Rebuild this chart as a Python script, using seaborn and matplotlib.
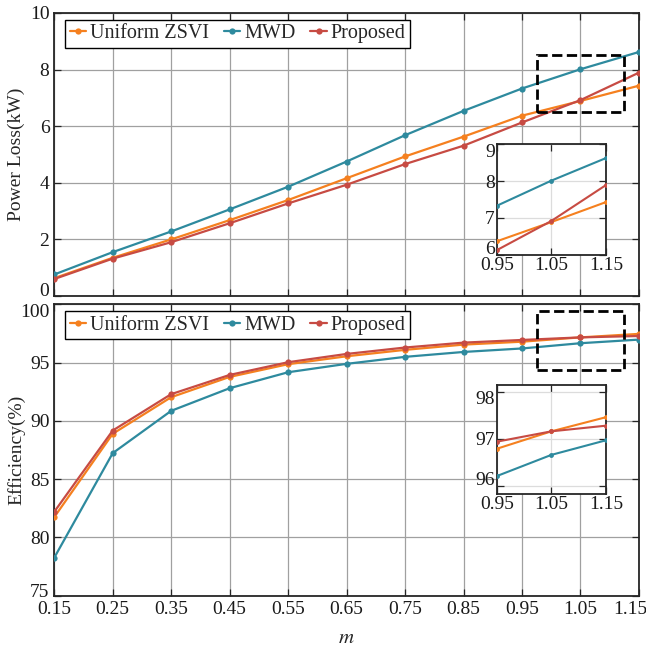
import pandas as pd
import matplotlib
matplotlib.use("Agg")
import matplotlib.pyplot as plt
from matplotlib.patches import Rectangle
from matplotlib.transforms import ScaledTranslation
import seaborn as sns

m = [0.15, 0.25, 0.35, 0.45, 0.55, 0.65, 0.75, 0.85, 0.95, 1.05, 1.15]
methods = ["Uniform ZSVI", "MWD", "Proposed"]

loss_uniform = [0.63, 1.35, 2.00, 2.68, 3.39, 4.16, 4.93, 5.63, 6.37, 6.89, 7.43]
loss_mwd = [0.76, 1.55, 2.28, 3.06, 3.86, 4.75, 5.68, 6.54, 7.33, 8.01, 8.62]
loss_proposed = [0.60, 1.32, 1.90, 2.57, 3.27, 3.93, 4.66, 5.31, 6.13, 6.92, 7.89]

eff_uniform = [81.74, 88.89, 92.03, 93.77, 94.86, 95.54, 96.09, 96.54, 96.79, 97.16, 97.46]
eff_mwd = [78.26, 87.23, 90.86, 92.80, 94.17, 94.89, 95.49, 95.91, 96.21, 96.66, 96.97]
eff_proposed = [82.20, 89.17, 92.29, 93.94, 95.03, 95.74, 96.29, 96.71, 96.94, 97.16, 97.28]

colors = ["#F5801F", "#2E8A9E", "#C74B43"]

sns.set_style("ticks")
plt.rcParams["font.family"] = ["Liberation Serif", "DejaVu Serif"]
plt.rcParams["mathtext.fontset"] = "stix"


def long_df(u, w, p):
    rows = []
    for name, vals in zip(methods, [u, w, p]):
        for x, y in zip(m, vals):
            rows.append({"m": x, "val": y, "method": name})
    return pd.DataFrame(rows)


loss_df = long_df(loss_uniform, loss_mwd, loss_proposed)
eff_df = long_df(eff_uniform, eff_mwd, eff_proposed)

fig = plt.figure(figsize=(6.46, 6.47), dpi=100)
ax1 = fig.add_axes([0.084, 0.5425, 0.905, 0.4375])
ax2 = fig.add_axes([0.084, 0.0793, 0.905, 0.4504])


def draw(ax, df, lw=1.6, ms=4.5):
    sns.lineplot(data=df, x="m", y="val", hue="method", hue_order=methods,
                 palette=colors, marker="o", markersize=ms, markeredgewidth=0,
                 linewidth=lw, legend=False, ax=ax, zorder=3)


def style(ax, fs=14, grid_color="#a0a0a0", pad=3.5):
    ax.grid(True, color=grid_color, linewidth=0.9)
    ax.set_axisbelow(True)
    for s in ax.spines.values():
        s.set_color("#262626")
        s.set_linewidth(1.3)
        s.set_visible(True)
    ax.tick_params(direction="in", top=True, right=True, labelsize=fs, pad=pad,
                   length=5, width=0.9, colors="#262626", labelcolor="#1a1a1a")
    ax.set_xlabel("")
    ax.set_ylabel("")


for ax, df in [(ax1, loss_df), (ax2, eff_df)]:
    draw(ax, df)
    ax.set_xlim(0.15, 1.15)
    ax.set_xticks(m)
    style(ax)

ax1.set_ylim(0, 10)
ax1.set_yticks([0, 2, 4, 6, 8, 10])
ax1.set_xticklabels([])
ax1.set_ylabel("Power Loss(kW)", fontsize=14)
ax1.yaxis.set_label_coords(-0.05, 0.5)

ax2.set_ylim(75, 100)
ax2.set_yticks([75, 80, 85, 90, 95, 100])
ax2.set_xticklabels([f"{v:.2f}" for v in m])
ax2.set_ylabel("Efficiency(%)", fontsize=14)
ax2.yaxis.set_label_coords(-0.05, 0.5)
ax2.set_xlabel("$m$", fontsize=15, labelpad=8)

for ax in (ax1, ax2):
    leg = ax.legend(ax.lines[:3], methods, ncol=3, loc="upper left",
                    bbox_to_anchor=(0.012, 0.99), fontsize=14.5, frameon=True,
                    fancybox=False, edgecolor="black", framealpha=1,
                    handlelength=0.8, handletextpad=0.2, columnspacing=0.75,
                    borderpad=0.22, borderaxespad=0.2)
    leg.get_frame().set_linewidth(1.0)

ax1.add_patch(Rectangle((0.975, 6.5), 0.15, 2.0, fill=False, edgecolor="black",
                        linestyle="--", linewidth=2, zorder=5))
ax2.add_patch(Rectangle((0.975, 94.4), 0.15, 5.0, fill=False, edgecolor="black",
                        linestyle="--", linewidth=2, zorder=5))

# insets
in1 = fig.add_axes([0.769, 0.6059, 0.169, 0.1715])
in2 = fig.add_axes([0.769, 0.2365, 0.169, 0.1689])
for ax, df in [(in1, loss_df), (in2, eff_df)]:
    draw(ax, df, lw=1.5, ms=3.5)
    ax.set_xlim(0.95, 1.15)
    ax.set_xticks([0.95, 1.05, 1.15])
    ax.set_xticklabels(["0.95", "1.05", "1.15"])
    style(ax, fs=14, grid_color="#dcdcdc", pad=1.5)

in1.set_ylim(6, 9)
in1.set_yticks([6, 7, 8, 9])
in2.set_ylim(95.83, 98.15)
in2.set_yticks([96, 97, 98])

fig.canvas.draw()


def nudge(label, dx, dy):
    label.set_transform(label.get_transform()
                        + ScaledTranslation(dx / 100, dy / 100, fig.dpi_scale_trans))


# pull the end labels inside the axes, like the original
nudge(ax1.get_yticklabels()[0], 0, 7)
nudge(ax2.get_yticklabels()[-1], 0, -6)
nudge(ax2.get_yticklabels()[0], 0, 5)
nudge(ax2.get_xticklabels()[-1], -9, 0)
for ax in (in1, in2):
    nudge(ax.get_yticklabels()[0], 0, 7)
    nudge(ax.get_yticklabels()[-1], 0, -6)

fig.savefig("out.png", dpi=100)
